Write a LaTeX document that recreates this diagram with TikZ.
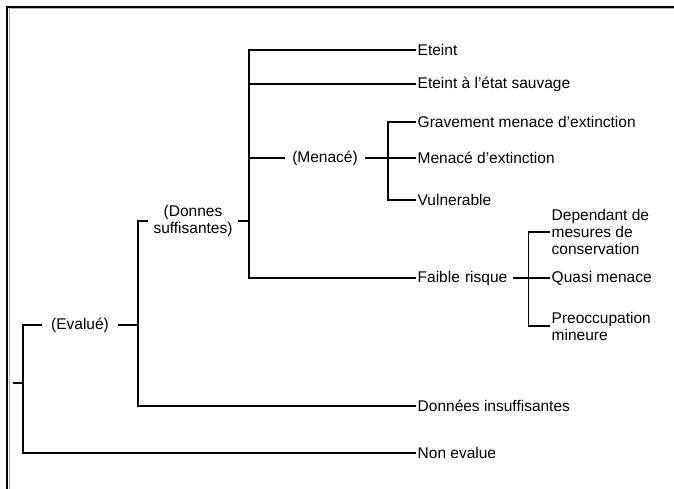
\documentclass[tikz,border=0pt]{standalone}
\usepackage{fontspec}
\setmainfont{Liberation Sans}
\begin{document}
\begin{tikzpicture}[x=1pt,y=-1pt,
  conn/.style={line width=1.5pt,black},
  leaf/.style={anchor=west,inner xsep=1.5pt,inner ysep=0pt,font=\fontsize{15.5}{17}\selectfont,align=left},
  mid/.style={inner sep=0pt,font=\fontsize{15.5}{17}\selectfont,align=center}]
\useasboundingbox (0,0) rectangle (674,489);
\draw[gray!60,line width=1pt] (9,489) -- (9,9) -- (674,9);
\draw[line width=1.5pt] (7,489) -- (7,7) -- (674,7);

\coordinate (root) at (13,383);
\node[mid,text width=76pt] (eval) at (80,325) {(Evalué)};
\node[mid,text width=90pt] (dsuf) at (193,221) {(Donnes\\suffisantes)};
\node[mid,text width=80pt] (men) at (325,158) {(Menacé)};
\node[leaf] (eteint) at (416,50) {Eteint};
\node[leaf] (sauv) at (416,84) {Eteint à l'état sauvage};
\node[leaf] (grav) at (416,122) {Gravement menace d'extinction};
\node[leaf] (mext) at (416,158) {Menacé d'extinction};
\node[leaf] (vuln) at (416,200) {Vulnerable};
\node[leaf,text width=94pt] (faible) at (416,278) {Faible risque};
\node[leaf] (dep) at (550,232) {Dependant de\\mesures de\\conservation};
\node[leaf] (quasi) at (550,278) {Quasi menace};
\node[leaf] (preo) at (550,326) {Preoccupation\\mineure};
\node[leaf] (dinsuf) at (416,406) {Données insuffisantes};
\node[leaf] (nonev) at (416,453) {Non evalue};

\draw[conn] (root) -- ++(10,0);
\draw[conn] (eval.west) -- ++(-19,0) |- (nonev.west);
\draw[conn] (eval.east) -- ++(20,0) coordinate (j1) |- (dinsuf.west);
\draw[conn] (j1) |- (dsuf.west);
\draw[conn] (dsuf.east) -- ++(11,0) coordinate (j2);
\draw[conn] (j2) |- (eteint.west);
\draw[conn] (j2) |- (sauv.west);
\draw[conn] (j2) |- (men.west);
\draw[conn] (j2) |- (faible.west);
\draw[conn] (men.east) -- ++(23,0) coordinate (j3) -- (mext.west);
\draw[conn] (j3) |- (grav.west);
\draw[conn] (j3) |- (vuln.west);
\draw[conn] (faible.east) -- ++(15,0) coordinate (j4) -- (quasi.west);
\draw[conn] (j4) |- (dep.west);
\draw[conn] (j4) |- (preo.west);
\end{tikzpicture}
\end{document}
